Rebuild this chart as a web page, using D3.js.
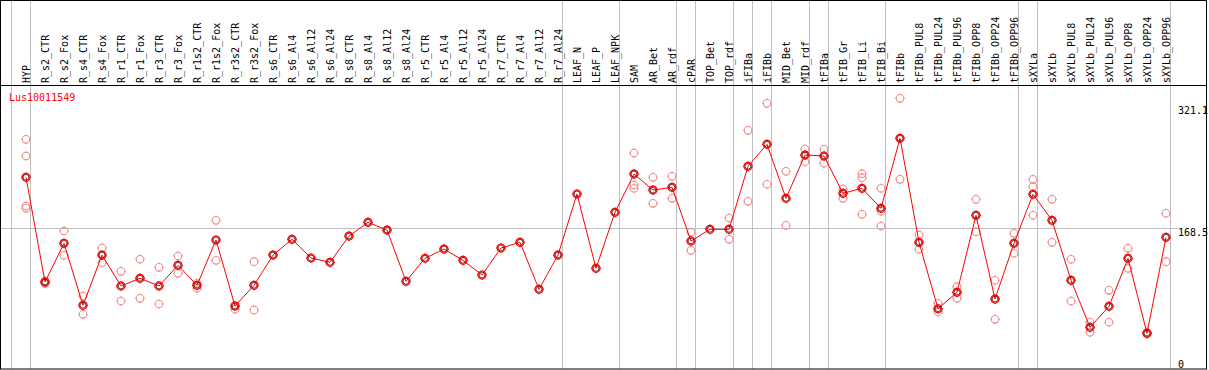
<!DOCTYPE html>
<html>
<head>
<meta charset="utf-8">
<script src="https://cdn.jsdelivr.net/npm/d3@7"></script>
<style>
  html, body { margin: 0; padding: 0; background: #fff; }
  svg text { font-family: "DejaVu Sans Mono", monospace; font-size: 10px; }
</style>
</head>
<body>
<div id="chart"></div>
<script>
const geneName = 'Lus10011549'

const categories = [
  'HYP', 'R_s2_CTR', 'R_s2_Fox', 'R_s4_CTR', 'R_s4_Fox', 'R_r1_CTR', 'R_r1_Fox', 'R_r3_CTR', 'R_r3_Fox',
  'R_r1s2_CTR', 'R_r1s2_Fox', 'R_r3s2_CTR', 'R_r3s2_Fox', 'R_s6_CTR', 'R_s6_Al4', 'R_s6_Al12', 'R_s6_Al24',
  'R_s8_CTR', 'R_s8_Al4', 'R_s8_Al12', 'R_s8_Al24', 'R_r5_CTR', 'R_r5_Al4', 'R_r5_Al12', 'R_r5_Al24',
  'R_r7_CTR', 'R_r7_Al4', 'R_r7_Al12', 'R_r7_Al24', 'LEAF_N', 'LEAF_P', 'LEAF_NPK', 'SAM', 'AR_Bet', 'AR_rdf',
  'cPAR', 'TOP_Bet', 'TOP_rdf', 'iFIBa', 'iFIBb', 'MID_Bet', 'MID_rdf', 'tFIBa', 'tFIB_Gr', 'tFIB_Li', 'tFIB_Bi',
  'tFIBb', 'tFIBb_PUL8', 'tFIBb_PUL24', 'tFIBb_PUL96', 'tFIBb_OPP8', 'tFIBb_OPP24', 'tFIBb_OPP96',
  'sXYLa', 'sXYLb', 'sXYLb_PUL8', 'sXYLb_PUL24', 'sXYLb_PUL96', 'sXYLb_OPP8', 'sXYLb_OPP24', 'sXYLb_OPP96'
]

const means = [
  232.1, 101.4, 149.7, 72.4, 135.1, 96.5, 106.1, 96.5, 122.3, 97.3, 153.9, 71.5, 97.3,
  135.1, 154.7, 131.4, 126.0, 158.8, 175.9, 166.3, 102.3, 131.0, 142.6, 128.5, 110.2,
  143.9, 151.0, 92.3, 135.1, 211.3, 118.5, 188.4, 236.2, 216.2, 219.6, 152.6, 167.2,
  167.2, 245.8, 273.3, 205.9, 259.9, 258.7, 212.1, 218.4, 193.4, 280.8, 151.0, 68.1,
  88.6, 184.7, 80.2, 149.7, 210.9, 178.4, 103.6, 44.9, 71.1, 131.0, 37.4, 157.2
]

// single replicate values per sample (empty where only the mean is shown)
const replicates = [
  [279.5, 258.7, 196.3, 193.4], [102.7, 99.8], [165.1, 134.8], [84.0, 61.1], [143.9, 125.5],
  [114.8, 77.7], [129.8, 81.1], [119.8, 74.0], [133.9, 112.3], [99.8, 93.6], [178.4, 128.5],
  [71.8, 67.4], [126.8, 66.5],
  [], [], [], [], [], [], [], [], [], [], [], [], [], [], [], [], [], [], [],
  [262.4, 222.5, 218.4], [232.1, 199.6], [233.3, 205.9], [163.5, 141.0], [],
  [181.3, 154.7], [290.7, 202.1], [324.4, 223.4], [239.6, 172.2], [267.4, 251.6],
  [267.0, 249.6], [217.5, 205.9], [236.6, 231.6, 185.9], [218.4, 190.0, 171.3],
  [330.7, 229.6], [160.1, 142.3], [74.9, 64.4], [95.6, 81.1], [204.6, 164.2], [103.6, 54.9],
  [162.2, 137.3], [229.6, 220.4, 184.7], [204.6, 151.0], [129.8, 77.7], [51.2, 38.7],
  [91.1, 51.2], [143.5, 118.5], [38.7, 36.6], [187.2, 126.8]
]

// separator lines sit after these sample indices
const groupBreaks = [-1, 0, 28, 31, 34, 35, 37, 38, 39, 41, 42, 45, 52, 53, 60]

const yTicks = [0, 168.5, 321.1]
const refLine = 168.5

const width = 1209
const height = 370
const headerBottom = 85
const plotRight = 1206

const x = d3.scaleLinear().domain([0, categories.length - 1]).range([26, 1166])
const y = d3.scaleLinear().domain([0, 321.1]).range([363.3, 106])

const svg = d3.select('#chart').append('svg')
  .attr('width', width)
  .attr('height', height)

// group separators
svg.append('g').selectAll('line')
  .data(groupBreaks)
  .join('line')
  .attr('x1', d => Math.round(x(d) + 4) + 0.5)
  .attr('x2', d => Math.round(x(d) + 4) + 0.5)
  .attr('y1', 0)
  .attr('y2', height - 1)
  .attr('stroke', '#c0c0c0')

// reference line
svg.append('line')
  .attr('x1', 1).attr('x2', 1178)
  .attr('y1', Math.round(y(refLine)) + 0.5)
  .attr('y2', Math.round(y(refLine)) + 0.5)
  .attr('stroke', '#c0c0c0')

// frame and header rule
svg.append('rect')
  .attr('x', 0.5).attr('y', 0.5)
  .attr('width', plotRight).attr('height', height - 1.5)
  .attr('fill', 'none').attr('stroke', '#000')
svg.append('line')
  .attr('x1', 0).attr('x2', plotRight)
  .attr('y1', headerBottom + 0.5).attr('y2', headerBottom + 0.5)
  .attr('stroke', '#000')

// column labels
svg.append('g').selectAll('text')
  .data(categories)
  .join('text')
  .attr('transform', (d, i) => `translate(${x(i) + 4}, ${headerBottom - 2}) rotate(-90)`)
  .attr('fill', '#000')
  .text(d => d)

svg.append('text')
  .attr('x', 9).attr('y', 101)
  .attr('fill', '#ff0000')
  .text(geneName)

// y tick labels
svg.append('g').selectAll('text')
  .data(yTicks)
  .join('text')
  .attr('x', 1178)
  .attr('y', d => Math.min(y(d), 360) + 7.5)
  .attr('fill', '#000')
  .text(d => d)

function marker (g, r, color, width) {
  g.append('circle')
    .attr('r', r)
    .attr('fill', 'none')
    .attr('stroke', color)
    .attr('stroke-width', width)
  g.append('path')
    .attr('d', `M0,${-r - 1}V${-r + 0.5}M0,${r - 0.5}V${r + 1}M${-r - 1},0H${-r + 0.5}M${r - 0.5},0H${r + 1}`)
    .attr('stroke', color)
    .attr('stroke-width', 1)
}

// replicate points
const repPoints = replicates.flatMap((reps, i) => reps.map(v => ({ i, v })))
svg.append('g').selectAll('g')
  .data(repPoints)
  .join('g')
  .attr('transform', d => `translate(${x(d.i)}, ${y(d.v)})`)
  .each(function () { marker(d3.select(this), 3.8, '#f09090', 1.1) })

// mean line
const line = d3.line()
  .x((d, i) => x(i))
  .y(d => y(d))

svg.append('path')
  .datum(means)
  .attr('d', line)
  .attr('fill', 'none')
  .attr('stroke', '#ff0000')
  .attr('stroke-width', 1)

// mean markers
svg.append('g').selectAll('g')
  .data(means)
  .join('g')
  .attr('transform', (d, i) => `translate(${x(i)}, ${y(d)})`)
  .each(function () {
    const g = d3.select(this)
    marker(g, 4, '#ff0000', 1.2)
    g.append('circle').attr('r', 2.9).attr('fill', 'none').attr('stroke', '#600000').attr('stroke-width', 0.8)
  })
</script>
</body>
</html>
